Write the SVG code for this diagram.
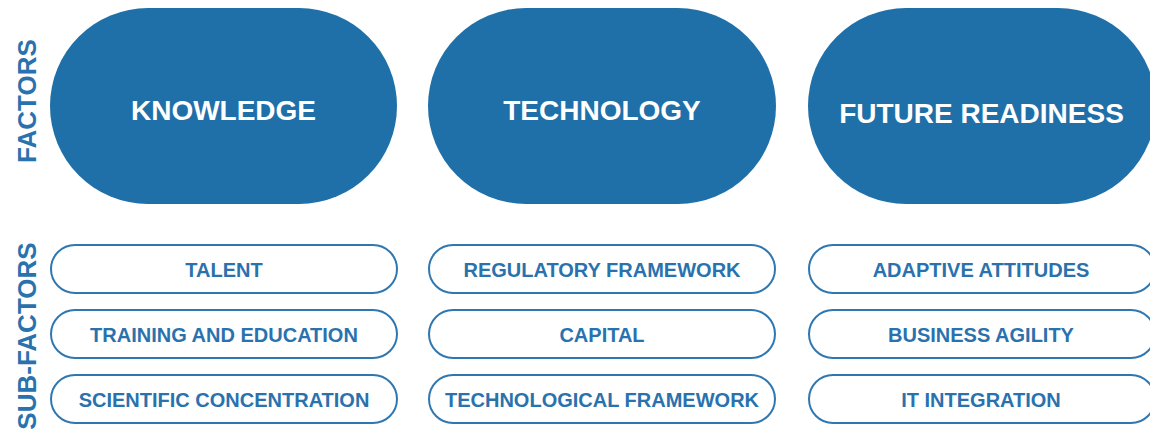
<svg xmlns="http://www.w3.org/2000/svg" width="1150" height="431" viewBox="0 0 1150 431">
<style>
.main{fill:#1f70a9}
.sub{fill:#ffffff;stroke:#2f77b0;stroke-width:2}
.mt{font-family:"Liberation Sans",Arial,sans-serif;font-weight:bold;font-size:28px;fill:#ffffff;text-anchor:middle}
.st{font-family:"Liberation Sans",Arial,sans-serif;font-weight:bold;font-size:20px;fill:#2a72ad;text-anchor:middle}
.side{font-family:"Liberation Sans",Arial,sans-serif;font-weight:bold;font-size:26px;fill:#2a72ad;text-anchor:middle}
</style>
<rect width="1150" height="431" fill="#ffffff"/>
<g id="side-labels">
<text class="side" transform="translate(36,101) rotate(-90)">FACTORS</text>
<text class="side" transform="translate(36,336) rotate(-90)">SUB-FACTORS</text>
</g>
<g id="knowledge">
<rect class="main" x="50" y="8" width="347" height="196" rx="98" ry="98"/>
<text class="mt" x="223.5" y="120">KNOWLEDGE</text>
</g>
<g id="technology">
<rect class="main" x="428" y="8" width="348" height="196" rx="98" ry="98"/>
<text class="mt" x="602" y="120">TECHNOLOGY</text>
</g>
<g id="future-readiness">
<rect class="main" x="808" y="8" width="348" height="196" rx="98" ry="98"/>
<text class="mt" x="981.5" y="123" font-size="29">FUTURE READINESS</text>
</g>
<g id="talent">
<rect class="sub" x="51" y="245" width="346" height="48" rx="24" ry="24"/>
<text class="st" x="224" y="277">TALENT</text>
</g>
<g id="training-education">
<rect class="sub" x="51" y="310" width="346" height="48" rx="24" ry="24"/>
<text class="st" x="224" y="342">TRAINING AND EDUCATION</text>
</g>
<g id="scientific-concentration">
<rect class="sub" x="51" y="375" width="346" height="48" rx="24" ry="24"/>
<text class="st" x="224" y="407">SCIENTIFIC CONCENTRATION</text>
</g>
<g id="regulatory-framework">
<rect class="sub" x="429" y="245" width="346" height="48" rx="24" ry="24"/>
<text class="st" x="602" y="277">REGULATORY FRAMEWORK</text>
</g>
<g id="capital">
<rect class="sub" x="429" y="310" width="346" height="48" rx="24" ry="24"/>
<text class="st" x="602" y="342">CAPITAL</text>
</g>
<g id="technological-framework">
<rect class="sub" x="429" y="375" width="346" height="48" rx="24" ry="24"/>
<text class="st" x="602" y="407">TECHNOLOGICAL FRAMEWORK</text>
</g>
<g id="adaptive-attitudes">
<rect class="sub" x="809" y="245" width="346" height="48" rx="24" ry="24"/>
<text class="st" x="981" y="277">ADAPTIVE ATTITUDES</text>
</g>
<g id="business-agility">
<rect class="sub" x="809" y="310" width="346" height="48" rx="24" ry="24"/>
<text class="st" x="981" y="342">BUSINESS AGILITY</text>
</g>
<g id="it-integration">
<rect class="sub" x="809" y="375" width="346" height="48" rx="24" ry="24"/>
<text class="st" x="981" y="407">IT INTEGRATION</text>
</g>
<g id="connectors"/>
</svg>
